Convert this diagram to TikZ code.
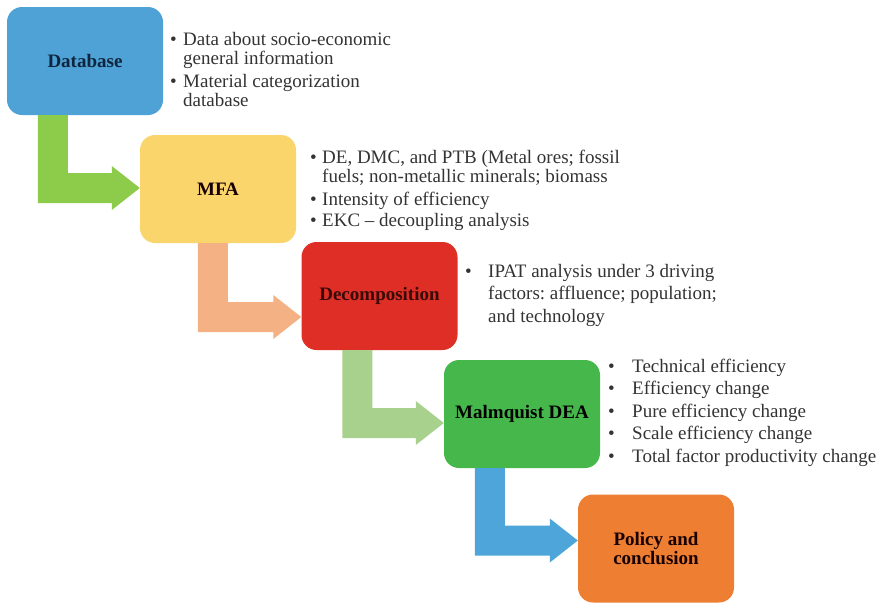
\documentclass[tikz,border=0pt]{standalone}
\usepackage{fontspec}
\setmainfont{Liberation Serif}
\usetikzlibrary{calc}
\frenchspacing
\definecolor{cDb}{HTML}{4EA2D5}
\definecolor{cMfa}{HTML}{F9D56C}
\definecolor{cDec}{HTML}{DF2E26}
\definecolor{cMal}{HTML}{46B84B}
\definecolor{cPol}{HTML}{EE7E32}
\definecolor{aGreen}{HTML}{8DCB4A}
\definecolor{aSalmon}{HTML}{F4B183}
\definecolor{aLight}{HTML}{A9D18E}
\definecolor{aBlue}{HTML}{4EA5D9}
\definecolor{txt}{HTML}{333333}
\definecolor{tDb}{HTML}{10263F}
\definecolor{tDec}{HTML}{3A0A08}
\newcommand\bul[1]{\makebox[#1][l]{\textbullet}}
\newcommand\Larrow[5]{%
  \fill[#1] let \p1=($(#2.south west)+(#3,0)$), \p2=($(#4.west)+(0,#5)$) in
    (\x1,\y1) -- ({\x1+30pt},\y1) -- ({\x1+30pt},{\y2+15pt}) -- ({\x2-28pt},{\y2+15pt})
    -- ({\x2-28pt},{\y2+22pt}) -- (\x2,\y2) -- ({\x2-28pt},{\y2-22pt})
    -- ({\x2-28pt},{\y2-15pt}) -- (\x1,{\y2-15pt}) -- cycle;}
\begin{document}
\begin{tikzpicture}[x=1pt,y=-1pt,
  box/.style={rounded corners=15pt,minimum width=156pt,minimum height=108pt,inner sep=0pt,
    align=center,font=\fontsize{19}{19}\selectfont\bfseries},
  list/.style={anchor=base west,inner sep=0pt,text=txt}]
\useasboundingbox (0,0) rectangle (882,603);
\node[box,fill=cDb,text=tDb] (db) at (85,61) {Database};
\node[box,fill=cMfa,text=black!90!red] (mfa) at (218,189) {MFA};
\node[box,fill=cDec,text=tDec] (dec) at (379.5,296) {Decomposition};
\node[box,fill=cMal,text=black] (mal) at (522,414) {Malmquist DEA};
\node[box,fill=cPol,text=black!90!red] (pol) at (656,548.5) {Policy and\\[0pt]conclusion};

\node[list] (dbt) at (170,45) {\fontsize{19}{19.5}\selectfont
  \begin{tabular}[t]{@{}l@{}}
  \bul{13pt}Data about socio-economic\\
  \hspace*{13pt}general information\\[3pt]
  \bul{13pt}Material categorization\\
  \hspace*{13pt}database
  \end{tabular}};
\node[list] (mfat) at (310,163) {\fontsize{19}{19.5}\selectfont
  \begin{tabular}[t]{@{}l@{}}
  \bul{12pt}DE, DMC, and PTB (Metal ores; fossil\\
  \hspace*{12pt}fuels; non-metallic minerals; biomass\\[3pt]
  \bul{12pt}Intensity of efficiency\\[2pt]
  \bul{12pt}EKC -- decoupling analysis
  \end{tabular}};
\node[list] (dect) at (465,277) {\fontsize{19}{22.7}\selectfont
  \begin{tabular}[t]{@{}l@{}}
  \bul{23pt}IPAT analysis under 3 driving\\
  \hspace*{23pt}factors: affluence; population;\\
  \hspace*{23pt}and technology
  \end{tabular}};
\node[list] (malt) at (608,372) {\fontsize{19}{22.5}\selectfont
  \begin{tabular}[t]{@{}l@{}}
  \bul{24pt}Technical efficiency\\
  \bul{24pt}Efficiency change\\
  \bul{24pt}Pure efficiency change\\
  \bul{24pt}Scale efficiency change\\
  \bul{24pt}Total factor productivity change
  \end{tabular}};

\Larrow{aGreen}{db}{31}{mfa}{-1}
\Larrow{aSalmon}{mfa}{58}{dec}{21}
\Larrow{aLight}{dec}{41}{mal}{9}
\Larrow{aBlue}{mal}{31}{pol}{-8}
\end{tikzpicture}
\end{document}
